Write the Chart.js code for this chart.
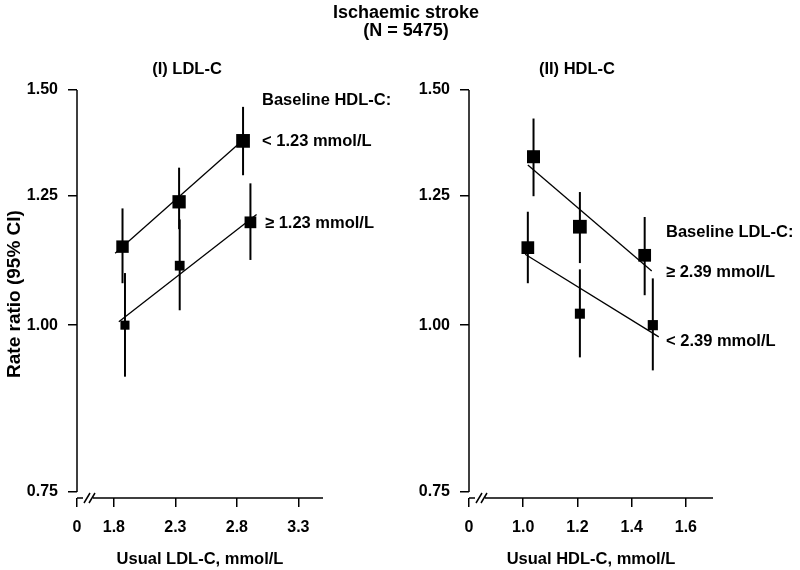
<!DOCTYPE html>
<html>
<head>
<meta charset="utf-8">
<title>Ischaemic stroke</title>
<script src="https://cdn.jsdelivr.net/npm/chart.js@4"></script>
<style>
  body { margin: 0; background: #fff; }
  #wrap { position: relative; width: 800px; height: 570px; font-family: "Liberation Sans", Arial, sans-serif; font-weight: bold; color: #000; }
  #wrap canvas { position: absolute; top: 0; }
  .txt { position: absolute; text-align: center; white-space: nowrap; }
</style>
</head>
<body>
<div id="wrap">
  <canvas id="ldl" width="400" height="570" style="left:0"></canvas>
  <canvas id="hdl" width="400" height="570" style="left:400px"></canvas>
  <div class="txt" style="left:6px; top:3px; width:800px; font-size:18px; line-height:18px">Ischaemic stroke<br>(N = 5475)</div>
  <div class="txt" style="left:87px; top:58px; width:200px; font-size:16.5px; line-height:20px">(I) LDL-C</div>
  <div class="txt" style="left:477px; top:58px; width:200px; font-size:16.5px; line-height:20px">(II) HDL-C</div>
</div>
<script>
// === Data ===
const yTicks = [0.75, 1.00, 1.25, 1.50];

// (I) LDL-C, split by baseline HDL-C
const ldlTicks = [1.5, 1.8, 2.3, 2.8, 3.3];
const ldlTickLabels = ['0', '1.8', '2.3', '2.8', '3.3'];
const ldlLowHdlX  = [1.87, 2.33, 2.85];
const ldlLowHdlRR = [1.145, 1.237, 1.374];
const ldlLowHdlLo = [1.075, 1.18, 1.295];
const ldlLowHdlHi = [1.223, 1.312, 1.457];
const ldlLowHdlFit = [[1.81, 1.132], [2.85, 1.376]];
const ldlHighHdlX  = [1.89, 2.335, 2.91];
const ldlHighHdlRR = [1.00, 1.108, 1.194];
const ldlHighHdlLo = [0.915, 1.026, 1.119];
const ldlHighHdlHi = [1.094, 1.20, 1.277];
const ldlHighHdlFit = [[1.84, 1.006], [2.96, 1.21]];

// (II) HDL-C, split by baseline LDL-C
const hdlTicks = [0.8, 1.0, 1.2, 1.4, 1.6];
const hdlTickLabels = ['0', '1.0', '1.2', '1.4', '1.6'];
const hdlHighLdlX  = [1.038, 1.209, 1.448];
const hdlHighLdlRR = [1.337, 1.185, 1.128];
const hdlHighLdlLo = [1.249, 1.113, 1.053];
const hdlHighLdlHi = [1.428, 1.258, 1.205];
const hdlHighLdlFit = [[1.017, 1.318], [1.474, 1.098]];
const hdlLowLdlX  = [1.017, 1.209, 1.478];
const hdlLowLdlRR = [1.143, 1.020, 1.00];
const hdlLowLdlLo = [1.075, 0.946, 0.925];
const hdlLowLdlHi = [1.216, 1.101, 1.084];
const hdlLowLdlFit = [[1.007, 1.130], [1.50, 0.98]];

Chart.defaults.font.family = '"Liberation Sans", Arial, sans-serif';
Chart.defaults.font.weight = 'bold';
Chart.defaults.font.size = 16;
Chart.defaults.color = '#000';

const FONT = 'bold 16.5px "Liberation Sans", Arial, sans-serif';

// === Plugins ===
// vertical 95% CI lines, under the squares
const errorBars = {
  id: 'errorBars',
  beforeDatasetsDraw(chart) {
    const { ctx, scales: { x, y } } = chart;
    ctx.save();
    ctx.strokeStyle = '#000';
    ctx.lineWidth = 2;
    for (const ds of chart.data.datasets) {
      if (!ds.lo) continue;
      ds.data.forEach((p, i) => {
        const px = x.getPixelForValue(p.x);
        ctx.beginPath();
        ctx.moveTo(px, y.getPixelForValue(ds.lo[i]));
        ctx.lineTo(px, y.getPixelForValue(ds.hi[i]));
        ctx.stroke();
      });
    }
    ctx.restore();
  }
};

// axis lines with the // break on the x axis, plus the side labels
const brokenAxes = {
  id: 'brokenAxes',
  afterDraw(chart, args, opts) {
    const { ctx, chartArea: a, scales: { y } } = chart;
    const top = y.getPixelForValue(yTicks[yTicks.length - 1]);
    const bot = y.getPixelForValue(yTicks[0]);
    ctx.save();
    ctx.strokeStyle = '#000';
    ctx.lineWidth = 1.5;
    ctx.beginPath();
    ctx.moveTo(a.left, top);
    ctx.lineTo(a.left, bot);
    ctx.moveTo(a.left, a.bottom);
    ctx.lineTo(a.left + 6, a.bottom);
    ctx.moveTo(a.left + 16, a.bottom);
    ctx.lineTo(a.right, a.bottom);
    ctx.moveTo(a.left + 7, a.bottom + 5);
    ctx.lineTo(a.left + 13, a.bottom - 5);
    ctx.moveTo(a.left + 12, a.bottom + 5);
    ctx.lineTo(a.left + 18, a.bottom - 5);
    ctx.stroke();

    ctx.fillStyle = '#000';
    ctx.font = FONT;
    ctx.textAlign = 'left';
    ctx.textBaseline = 'middle';
    for (const t of opts.items || []) {
      ctx.fillText(t.text, t.x, t.y);
    }
    ctx.restore();
  }
};

// === Panels ===
function pts(xs, ys) {
  return xs.map((x, i) => ({ x: x, y: ys[i] }));
}

function fitLine(seg) {
  return {
    data: seg.map(p => ({ x: p[0], y: p[1] })),
    showLine: true,
    pointRadius: 0,
    borderColor: '#000',
    borderWidth: 1.3
  };
}

function squares(xs, ys, lo, hi, radii) {
  return {
    data: pts(xs, ys),
    lo: lo,
    hi: hi,
    pointStyle: 'rect',
    pointRadius: radii,
    backgroundColor: '#000',
    borderWidth: 0
  };
}

function makePanel(id, cfg) {
  return new Chart(document.getElementById(id), {
    type: 'scatter',
    data: { datasets: cfg.datasets },
    options: {
      responsive: false,
      animation: false,
      layout: { padding: { top: 90, left: 0, right: cfg.padRight, bottom: 0 } },
      plugins: {
        legend: { display: false },
        tooltip: { enabled: false },
        brokenAxes: { items: cfg.notes }
      },
      scales: {
        x: {
          type: 'linear',
          min: cfg.xMin,
          max: cfg.xMax,
          afterBuildTicks: s => { s.ticks = cfg.xTicks.map(v => ({ value: v })); },
          afterFit: s => { s.height = 72; },
          ticks: {
            autoSkip: false,
            maxRotation: 0,
            padding: 11,
            callback: (v, i) => cfg.xLabels[i]
          },
          grid: { drawOnChartArea: false, tickLength: 9, color: '#000', lineWidth: 1.5 },
          border: { display: false },
          title: {
            display: true,
            text: cfg.xTitle,
            font: { size: 16.5, weight: 'bold' },
            padding: { top: 0, bottom: 1 }
          }
        },
        y: {
          type: 'logarithmic',
          min: 0.7423,
          max: 1.5,
          afterBuildTicks: s => { s.ticks = yTicks.map(v => ({ value: v })); },
          afterFit: s => { s.width = cfg.yWidth; },
          ticks: {
            autoSkip: false,
            padding: 10,
            callback: v => v.toFixed(2)
          },
          grid: { drawOnChartArea: false, tickLength: 9, color: '#000', lineWidth: 1.5 },
          border: { display: false },
          title: {
            display: !!cfg.yTitle,
            text: cfg.yTitle,
            font: { size: 19, weight: 'bold' },
            padding: { top: 3, bottom: 0 }
          }
        }
      }
    },
    plugins: [errorBars, brokenAxes]
  });
}

makePanel('ldl', {
  xMin: 1.5, xMax: 3.5, xTicks: ldlTicks, xLabels: ldlTickLabels,
  xTitle: 'Usual LDL-C, mmol/L', yTitle: 'Rate ratio (95% CI)',
  yWidth: 77, padRight: 77,
  datasets: [
    fitLine(ldlLowHdlFit),
    fitLine(ldlHighHdlFit),
    squares(ldlLowHdlX, ldlLowHdlRR, ldlLowHdlLo, ldlLowHdlHi, [8.8, 9.4, 9.7]),
    squares(ldlHighHdlX, ldlHighHdlRR, ldlHighHdlLo, ldlHighHdlHi, [6.4, 6.9, 8.3])
  ],
  notes: [
    { text: 'Baseline HDL-C:', x: 262, y: 100 },
    { text: '< 1.23 mmol/L', x: 262, y: 141 },
    { text: '\u2265 1.23 mmol/L', x: 265, y: 223 }
  ]
});

makePanel('hdl', {
  xMin: 0.8, xMax: 1.7, xTicks: hdlTicks, xLabels: hdlTickLabels,
  xTitle: 'Usual HDL-C, mmol/L', yTitle: '',
  yWidth: 69, padRight: 87,
  datasets: [
    fitLine(hdlHighLdlFit),
    fitLine(hdlLowLdlFit),
    squares(hdlHighLdlX, hdlHighLdlRR, hdlHighLdlLo, hdlHighLdlHi, [9.2, 9.7, 9.0]),
    squares(hdlLowLdlX, hdlLowLdlRR, hdlLowLdlLo, hdlLowLdlHi, [9.0, 7.1, 7.2])
  ],
  notes: [
    { text: 'Baseline LDL-C:', x: 266, y: 232 },
    { text: '\u2265 2.39 mmol/L', x: 266, y: 272 },
    { text: '< 2.39 mmol/L', x: 266, y: 341 }
  ]
});
</script>
</body>
</html>
